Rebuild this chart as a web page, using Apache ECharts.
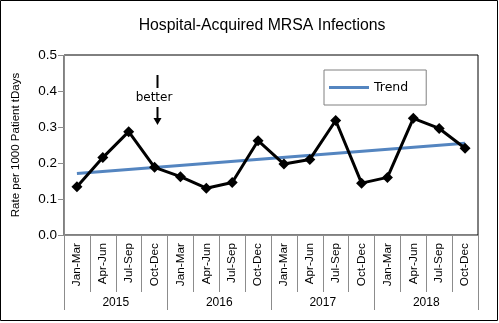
<!DOCTYPE html>
<html>
<head>
<meta charset="utf-8">
<script src="https://cdn.jsdelivr.net/npm/echarts@6/dist/echarts.min.js"></script>
<style>
  html, body { margin: 0; padding: 0; background: #fff; }
  #chart { width: 499px; height: 323px; }
</style>
</head>
<body>
<div id="chart"></div>
<script>
// Quarterly hospital-acquired MRSA rate, 2015-2018
const quarters = ['Jan-Mar', 'Apr-Jun', 'Jul-Sep', 'Oct-Dec'];
const years = ['2015', '2016', '2017', '2018'];
const rates = [
  0.134, 0.215, 0.287, 0.188,
  0.162, 0.130, 0.146, 0.262,
  0.197, 0.210, 0.318, 0.144,
  0.160, 0.324, 0.296, 0.241
];
// Linear trend: value at the first and at the last quarter
const trendEnds = [0.171, 0.255];
const yTicks = [0, 0.1, 0.2, 0.3, 0.4, 0.5];

const categories = [];
years.forEach(() => quarters.forEach(q => categories.push(q)));
const lastIdx = categories.length - 1;

const gray = '#8c8c8c';
const armFont = 'Arial, "Liberation Sans", sans-serif';

const chart = echarts.init(document.getElementById('chart'), null, { renderer: 'canvas' });
chart.setOption({
  animation: false,
  backgroundColor: '#ffffff',
  title: {
    text: 'Hospital-Acquired MRSA Infections',
    left: 257, top: 13, textAlign: 'center',
    textStyle: { fontFamily: armFont, fontSize: 15.8, fontWeight: 'normal', color: '#000' }
  },
  legend: {
    data: [{ name: 'Trend', icon: 'rect' }],
    left: 324, top: 70,
    orient: 'horizontal',
    padding: [10, 18, 10, 5],
    borderColor: '#808080', borderWidth: 1,
    itemWidth: 40, itemHeight: 3,
    textStyle: { fontFamily: '"DejaVu Sans", sans-serif', fontSize: 12.5, color: '#000', lineHeight: 15 }
  },
  grid: {
    left: 64, top: 55, right: 21, bottom: 88,
    show: true, borderColor: '#000', borderWidth: 1, backgroundColor: '#fff'
  },
  xAxis: [
    {
      type: 'category', data: categories, position: 'bottom', boundaryGap: true,
      axisLine: { lineStyle: { color: gray, width: 1 } },
      axisTick: { show: true, interval: 0, length: 57, lineStyle: { color: gray } },
      axisLabel: { interval: 0, rotate: 90, margin: 8, fontFamily: armFont, fontSize: 11.8, color: '#000' }
    },
    {
      type: 'category', data: years, position: 'bottom', boundaryGap: true,
      axisLine: { show: false },
      axisTick: { show: true, interval: 0, length: 75, lineStyle: { color: gray } },
      axisLabel: { interval: 0, margin: 62, fontFamily: armFont, fontSize: 12, color: '#000' }
    }
  ],
  yAxis: {
    type: 'value', min: yTicks[0], max: yTicks[yTicks.length - 1], interval: 0.1,
    name: 'Rate per 1000 Patient tDays', nameLocation: 'middle', nameGap: 42,
    nameTextStyle: { fontFamily: armFont, fontSize: 11.5, color: '#000' },
    axisLine: { show: true, lineStyle: { color: gray } },
    axisTick: { show: true, length: 6, lineStyle: { color: gray } },
    splitLine: { show: false },
    axisLabel: { margin: 7, fontFamily: armFont, fontSize: 13.5, color: '#000',
      formatter: v => v.toFixed(1) }
  },
  series: [
    {
      name: 'Rate', type: 'line', xAxisIndex: 0, data: rates,
      symbol: 'diamond', symbolSize: 11, showSymbol: true,
      lineStyle: { color: '#000', width: 3 },
      itemStyle: { color: '#000' },
      z: 3
    },
    {
      name: 'Trend', type: 'line', xAxisIndex: 0,
      data: [[0, trendEnds[0]], [lastIdx, trendEnds[1]]],
      symbol: 'none',
      lineStyle: { color: '#5485c0', width: 3 },
      itemStyle: { color: '#5485c0' },
      z: 2
    }
  ],
  graphic: [
    { type: 'rect', shape: { x: 0.5, y: 0.5, width: 497, height: 320 },
      style: { fill: 'none', stroke: '#000', lineWidth: 1 }, silent: true, z: 100 },
    { type: 'line', shape: { x1: 157.5, y1: 75, x2: 157.5, y2: 88 },
      style: { stroke: '#000', lineWidth: 2 }, z: 50 },
    { type: 'text', x: 154, y: 98,
      style: { text: 'better', fill: '#000', font: '12px "DejaVu Sans", sans-serif',
        align: 'center', verticalAlign: 'middle' }, z: 50 },
    { type: 'line', shape: { x1: 157.5, y1: 107, x2: 157.5, y2: 119 },
      style: { stroke: '#000', lineWidth: 2 }, z: 50 },
    { type: 'polygon', shape: { points: [[153.5, 118], [161.5, 118], [157.5, 125]] },
      style: { fill: '#000' }, z: 50 }
  ]
});
</script>
</body>
</html>
